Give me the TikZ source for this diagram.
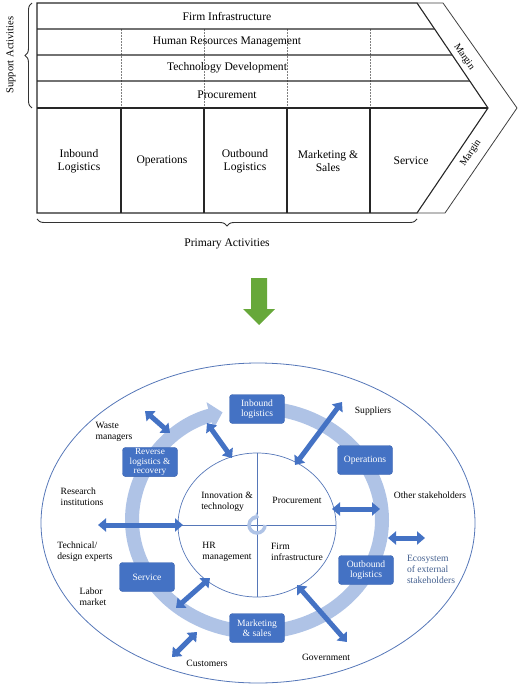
\documentclass[tikz,border=0pt]{standalone}
\usepackage{fontspec}
\setmainfont{Liberation Serif}
\usetikzlibrary{arrows.meta, calc, shapes.geometric, decorations.pathreplacing}
\definecolor{vcblue}{HTML}{4472C4}
\definecolor{vcedge}{HTML}{3A62AE}
\definecolor{vcring}{HTML}{AFC3E6}
\definecolor{vcline}{HTML}{5677B8}
\definecolor{vceco}{HTML}{44608F}
\definecolor{vcgreen}{HTML}{67A83A}

\begin{document}
\begin{tikzpicture}[x=1pt, y=-1pt,
    frame/.style={line width=1.1pt, black!85},
    rowtxt/.style={font=\fontsize{11.6}{13}\selectfont},
    cell/.style={font=\fontsize{11.6}{13.3}\selectfont, align=center},
    brc/.style={decorate, decoration={brace, amplitude=7pt}, line width=0.9pt, black!80},
    act/.style={draw=vcedge, fill=vcblue, rounded corners=3pt, text=white,
      minimum width=55pt, minimum height=29pt, inner sep=1pt, align=center,
      font=\fontsize{9.6}{10}\selectfont},
    lbl/.style={align=left, inner sep=1pt, font=\fontsize{9.6}{11}\selectfont},
    ring/.style={vcring, line width=14pt, -{Triangle[length=13pt, width=27pt]}},
    dbl/.style={{Triangle[length=8pt, width=13pt]}-{Triangle[length=8pt, width=13pt]},
      line width=5pt, vcblue}]
\useasboundingbox (0,0) rectangle (520,687);

% --- value chain ---
\coordinate (sT) at (417,3);
\coordinate (sM) at (488,108);
\coordinate (sB) at (417,213);
\coordinate (oT) at (443,3);
\coordinate (oM) at (517,108);
\coordinate (oB) at (445,213);
\foreach \x in {121,204,287,370}{
  \draw[densely dotted, gray, line width=0.5pt] (\x,29) -- (\x,108);
  \draw[frame] (\x,108) -- (\x,213);}
\foreach \y in {29,55,81}
  \draw[frame] (37,\y) -- ($(sT)!{(\y-3)/105}!(sM)$);
\draw[frame] (sT) -- (37,3) -- (37,213) -- (sB) -- (sM) -- cycle;
\draw[frame, line width=1.6pt] (37,108) -- (sM);
\draw[line width=0.8pt, black!75] (sT) -- (oT) -- (oM) -- (oB) -- (sB);

\node[rowtxt] (fi) at (227,16) {Firm Infrastructure};
\node[rowtxt] (hrm) at (227,42) {Human Resources Management};
\node[rowtxt] (td) at (227,68) {Technology Development};
\node[rowtxt] (proc) at (227,95) {Procurement};

\node[cell] (il) at (79,161) {Inbound\\Logistics};
\node[cell] (op) at (162,161) {Operations};
\node[cell] (ol) at (245,161) {Outbound\\Logistics};
\node[cell] (ms) at (328,161) {Marketing \&\\Sales};
\node[cell] (sv) at (411,161) {Service};
\node[font=\fontsize{10}{12}\selectfont, inner sep=0pt, rotate=-56] (mgT) at (464,57) {Margin};
\node[font=\fontsize{10}{12}\selectfont, inner sep=0pt, rotate=56] (mgB) at (471,153) {Margin};

\draw[brc] (32,108) -- (32,3);
\node[rowtxt, font=\fontsize{10.5}{12}\selectfont, rotate=90] (supl) at (11,55) {Support Activities};
\draw[brc] (417,219) -- (37,219);
\node[rowtxt] (priml) at (227,244) {Primary Activities};

% --- transition ---
\fill[vcgreen] (251,278) -- (267,278) -- (267,309) -- (275,309) -- (259,325)
  -- (243,309) -- (251,309) -- cycle;

% --- ecosystem ---
\node[ellipse, draw=vcline, line width=0.8pt, minimum width=434pt, minimum height=320pt,
  inner sep=0pt] (eco) at (258,523) {};
\draw[ring] (257,408) arc[start angle=-90, end angle=254, x radius=125, y radius=112];
\node[ellipse, draw=vcline, line width=0.7pt, minimum width=158pt, minimum height=144pt,
  inner sep=0pt] (core) at (257,525) {};
\draw[vcline, line width=0.7pt] (core.north) -- (core.south);
\draw[vcline, line width=0.7pt] (core.west) -- (core.east);
\draw[vcring, line width=3.5pt, -{Triangle[length=4pt, width=8pt]}]
  (265,525) arc[start angle=0, end angle=285, radius=8];

\node[lbl] (inno) at (227,502) {Innovation \&\\technology};
\node[lbl] (procu) at (297,500) {Procurement};
\node[lbl] (hrmg) at (227,552) {HR\\management};
\node[lbl] (firm) at (297,552) {Firm\\infrastructure};

\node[act] (inb) at (257,409) {Inbound\\logistics};
\node[act] (opr) at (365,460) {Operations};
\node[act] (outb) at (366,570) {Outbound\\logistics};
\node[act] (mkt) at (257,628) {Marketing\\\& sales};
\node[act] (srv) at (147,577) {Service};
\node[act, font=\fontsize{9.3}{9.5}\selectfont] (rev) at (150,462) {Reverse\\logistics \&\\recovery};

\node[lbl] (waste) at (114,432) {Waste\\managers};
\node[lbl] (supp) at (373,411) {Suppliers};
\node[lbl] (res) at (82,497) {Research\\institutions};
\node[lbl] (oth) at (430,495) {Other stakeholders};
\node[lbl] (tech) at (85,552) {Technical/\\design experts};
\node[lbl] (labor) at (93,597) {Labor\\market};
\node[lbl] (cust) at (207,663) {Customers};
\node[lbl] (govt) at (326,657) {Government};
\node[lbl, text=vceco] (ecos) at (431,569) {Ecosystem\\of external\\stakeholders};

% exchange arrows
\coordinate (dW1) at (145,411); \coordinate (dW2) at (170,433);
\coordinate (dI1) at (207,423); \coordinate (dI2) at (232,458);
\coordinate (dS1) at (342,402); \coordinate (dS2) at (295,465);
\coordinate (dP1) at (332,509); \coordinate (dP2) at (380,509);
\coordinate (dE1) at (388,538); \coordinate (dE2) at (425,538);
\coordinate (dR1) at (98,525);  \coordinate (dR2) at (183,525);
\coordinate (dH1) at (210,578); \coordinate (dH2) at (176,608);
\coordinate (dC1) at (197,632); \coordinate (dC2) at (172,657);
\coordinate (dG1) at (297,585); \coordinate (dG2) at (347,642);
\foreach \n in {dW,dI,dS,dP,dE,dR,dH,dC,dG}
  \draw[dbl] (\n1) -- (\n2);
\end{tikzpicture}
\end{document}
